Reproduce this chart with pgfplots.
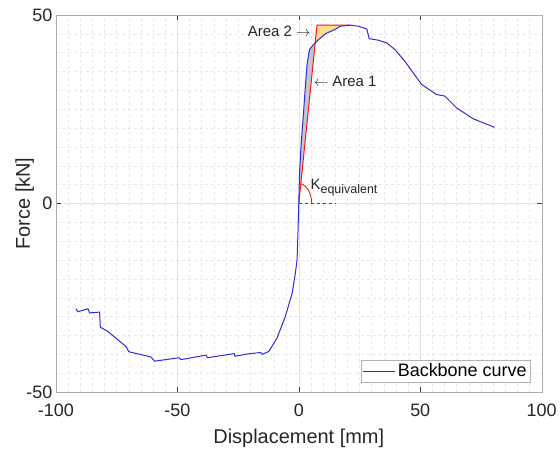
\documentclass[border=0pt]{standalone}
\usepackage{fontspec}
\setmainfont{Liberation Sans}
\usepackage{pgfplots}
\pgfplotsset{compat=1.18}
\definecolor{bbblue}{RGB}{45,45,215}
\definecolor{bbred}{RGB}{250,20,20}
\definecolor{areaone}{RGB}{196,198,210}
\definecolor{areatwo}{RGB}{250,222,150}
\begin{document}
\begin{tikzpicture}
\begin{axis}[
  scale only axis, width=487pt, height=378pt,
  xmin=-100, xmax=100, ymin=-50, ymax=50,
  xtick={-100,-50,0,50,100}, ytick={-50,0,50},
  minor tick num=9,
  grid=both,
  major grid style={gray!22, line width=0.4pt},
  minor grid style={gray!18, dashed, line width=0.4pt},
  minor tick length=0pt, major tick length=5pt, tick align=inside,
  axis line style={gray!65},
  tick style={black!75},
  /pgf/number format/assume math mode=true,
  ticklabel style={font=\fontsize{18}{21}\selectfont, text=black!85},
  xticklabel style={yshift=-8pt},
  label style={font=\fontsize{20}{24}\selectfont, text=black!85},
  xlabel={Displacement [mm]}, ylabel={Force [kN]},
  xlabel style={at={(axis description cs:0.5,-0.124)}, anchor=center},
  ylabel style={at={(axis description cs:-0.064,0.5)}, anchor=center},
  legend style={at={(axis cs:95.5,-47.5)}, anchor=south east, draw=gray!60,
    font=\fontsize{18}{21}\selectfont, inner sep=2pt, row sep=0pt},
  legend cell align=left,
  legend image code/.code={\draw[#1] (0pt,0pt) -- (32pt,0pt);},
  clip=false,
]
% Area 1
\addplot[fill=areaone, draw=none, forget plot] coordinates {
 (0,0) (0.3,8) (1.0,16) (2.0,24.5) (2.7,31) (3.4,36.9) (4.4,40.8) (6.1,42.2) (6.77,42.6) (0,0)};
% Area 2
\addplot[fill=areatwo, draw=none, forget plot] coordinates {
 (6.77,42.6) (7.5,47.3) (21.2,47.3) (17.1,47.0) (15,46.2) (10.9,45.0) (8.2,43.5) (6.77,42.6)};
% bilinear (red)
\addplot[bbred, line width=1pt, forget plot] coordinates {(0,0) (7.5,47.3) (21.2,47.3)};
% backbone curve
\addplot[bbblue, line width=1pt] coordinates {
 (-91.8,-27.9) (-90.9,-28.7) (-86.8,-27.9) (-86.1,-29.0) (-82.0,-28.8) (-81.7,-32.8)
 (-78.6,-33.9) (-71.0,-38.0) (-70.0,-39.3) (-60.8,-40.7) (-59.4,-41.8) (-49.2,-40.9)
 (-48.5,-41.4) (-38.2,-40.2) (-37.6,-40.9) (-26.6,-39.8) (-26.2,-40.5) (-21.2,-39.9)
 (-15.7,-39.5) (-15.0,-40.0) (-12.3,-39.2) (-8.9,-35.6) (-5.5,-29.9) (-2.7,-23.7)
 (-1.4,-18.4) (-0.7,-14.9) (-0.3,-6.9) (0,0) (0.3,8) (1.0,16) (2.0,24.5) (2.7,31)
 (3.4,36.9) (4.4,40.8) (6.1,42.2) (8.2,43.5) (10.9,45.0) (15,46.2) (17.1,47.0)
 (21.2,47.3) (24.6,47.0) (28,46.3) (29,43.7) (32.8,43.3) (36.2,42.6) (39.6,40.8)
 (43.7,37.7) (50.5,31.6) (56.7,28.9) (60.1,28.5) (64.9,25.4) (71.7,22.5) (80.6,20.2)};
\addlegendentry{Backbone curve}
% angle arc
\addplot[bbred, line width=0.9pt, forget plot] coordinates {
 (5.3,0) (5.22,0.92) (4.98,1.81) (4.59,2.65) (4.06,3.41) (3.41,4.06) (2.65,4.59) (1.81,4.98) (1.37,5.12) (0.83,5.23)};
% dashed reference
\addplot[black!70, dashed, line width=0.5pt, forget plot] coordinates {(0,0) (15,0)};
\node[anchor=east, inner sep=0pt, font=\fontsize{15}{18}\selectfont, text=black!85] at (axis cs:4.9,45.6) {Area 2 $\rightarrow$};
\node[anchor=west, inner sep=0pt, font=\fontsize{15}{18}\selectfont, text=black!85] at (axis cs:6.1,32.4) {$\leftarrow$ Area 1};
\node[anchor=base west, inner sep=0pt, text=black!85] at (axis cs:4.8,3.6) {{\fontsize{15}{18}\selectfont K}{\fontsize{12.5}{15}\selectfont\raisebox{-4pt}{equivalent}}};
\end{axis}
\path ([shift={(-56pt,-58pt)}]current axis.south west) rectangle ([shift={(17pt,15pt)}]current axis.north east);
\end{tikzpicture}
\end{document}
